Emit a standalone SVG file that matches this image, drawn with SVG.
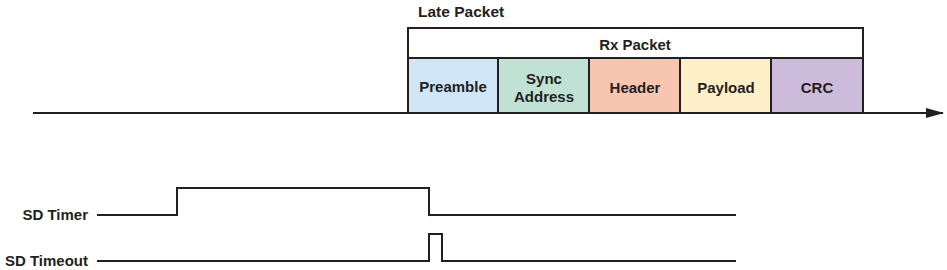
<svg xmlns="http://www.w3.org/2000/svg" width="947" height="270" viewBox="0 0 947 270">
<defs>
<style>
text{font-family:"Liberation Sans",Arial,sans-serif;font-weight:bold;font-size:15px;fill:#231f20}
.c{text-anchor:middle}
.r{text-anchor:end}
.box{stroke:#231f20;stroke-width:2}
.sig{fill:none;stroke:#231f20;stroke-width:2}
</style>
<marker id="ah" markerWidth="18" markerHeight="10" refX="17" refY="5" orient="auto" markerUnits="userSpaceOnUse">
<path d="M0,0 L18,5 L0,10 Z" fill="#231f20"/>
</marker>
</defs>
<rect width="947" height="270" fill="#fff"/>
<g id="connectors">
<line x1="33" y1="113" x2="943" y2="113" stroke="#231f20" stroke-width="2" marker-end="url(#ah)"/>
<polyline class="sig" points="97,215 177,215 177,188 429,188 429,215 736,215"/>
<polyline class="sig" points="97,261 429,261 429,234 442,234 442,261 736,261"/>
</g>
<g id="late-packet"><text x="418" y="17" style="font-size:15.5px">Late Packet</text></g>
<g id="rx-packet"><rect class="box" x="408" y="28" width="455" height="30" fill="#fff"/><text class="c" x="635" y="50">Rx Packet</text></g>
<g id="preamble"><rect class="box" x="408" y="58" width="90" height="55" fill="#cfe6f7"/><text class="c" x="453" y="92">Preamble</text></g>
<g id="sync-address"><rect class="box" x="498" y="58" width="91" height="55" fill="#bfe2d4"/><text class="c" x="544" y="84">Sync</text><text class="c" x="544" y="102">Address</text></g>
<g id="header"><rect class="box" x="589" y="58" width="91" height="55" fill="#f8c5b1"/><text class="c" x="635" y="93">Header</text></g>
<g id="payload"><rect class="box" x="680" y="58" width="91" height="55" fill="#fdefc8"/><text class="c" x="726" y="93">Payload</text></g>
<g id="crc"><rect class="box" x="771" y="58" width="92" height="55" fill="#cdbbdc"/><text class="c" x="817" y="93">CRC</text></g>
<g id="sd-timer"><text class="r" x="88" y="220">SD Timer</text></g>
<g id="sd-timeout"><text class="r" x="88" y="266">SD Timeout</text></g>
</svg>
